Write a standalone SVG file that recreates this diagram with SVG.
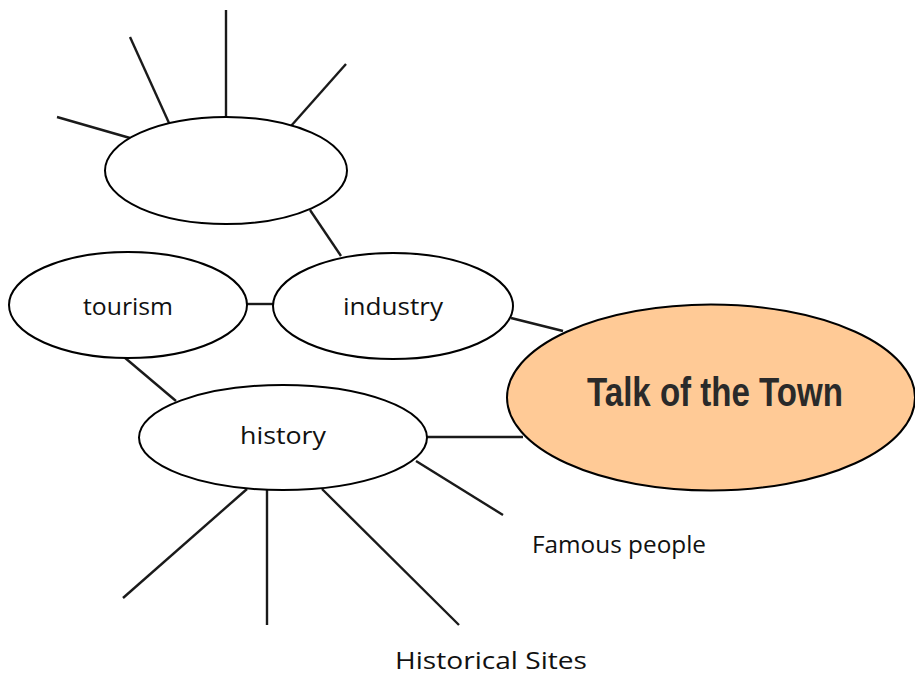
<svg xmlns="http://www.w3.org/2000/svg" width="915" height="675" viewBox="0 0 915 675">
<style>
.n{fill:#fff;stroke:#000;stroke-width:2}
.c line{stroke:#1a1a1a;stroke-width:2.4}
.t{font-family:"Comic Sans MS","Open Sans","DejaVu Sans",sans-serif;font-size:24px;fill:#111}
.big{font-family:"Liberation Sans","DejaVu Sans",sans-serif;font-weight:bold;font-size:40px;fill:#2a2a2a}
</style>
<rect width="915" height="675" fill="#fff"/>
<g class="c" id="connectors">
<line x1="226" y1="10" x2="226" y2="117"/>
<line x1="130" y1="37" x2="169" y2="123"/>
<line x1="57" y1="117" x2="130" y2="138"/>
<line x1="346" y1="64" x2="291" y2="126"/>
<line x1="310" y1="210" x2="341" y2="256"/>
<line x1="247" y1="304" x2="273" y2="304"/>
<line x1="511" y1="318" x2="563" y2="331"/>
<line x1="124" y1="357" x2="176" y2="401"/>
<line x1="427" y1="437" x2="523" y2="437"/>
<line x1="416" y1="461" x2="503" y2="515"/>
<line x1="247" y1="489" x2="123" y2="598"/>
<line x1="267" y1="490" x2="267" y2="625"/>
<line x1="322" y1="489" x2="459" y2="625"/>
</g>
<g id="blank"><ellipse class="n" cx="226" cy="170.5" rx="121" ry="53.5"/></g>
<g id="tourism"><ellipse class="n" cx="128" cy="305" rx="119" ry="53"/><text class="t" x="83" y="315" textLength="90" lengthAdjust="spacingAndGlyphs">tourism</text></g>
<g id="industry"><ellipse class="n" cx="393" cy="306" rx="120" ry="53"/><text class="t" x="343" y="315" textLength="100" lengthAdjust="spacingAndGlyphs">industry</text></g>
<g id="history"><ellipse class="n" cx="283" cy="437.5" rx="144" ry="52.5"/><text class="t" x="240" y="444" textLength="86" lengthAdjust="spacingAndGlyphs">history</text></g>
<g id="talk"><ellipse cx="711" cy="397.5" rx="204" ry="93" fill="#FFCA96" stroke="#000" stroke-width="2"/><text class="big" x="587" y="406" textLength="256" lengthAdjust="spacingAndGlyphs">Talk of the Town</text></g>
<g id="famous"><text class="t" x="532" y="553" textLength="174" lengthAdjust="spacingAndGlyphs">Famous people</text></g>
<g id="sites"><text class="t" x="395" y="669" textLength="192" lengthAdjust="spacingAndGlyphs">Historical Sites</text></g>
</svg>
